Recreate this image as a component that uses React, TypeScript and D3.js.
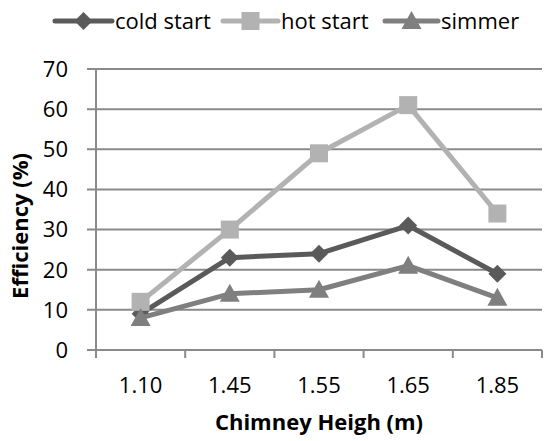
import React from "react";
import * as d3 from "d3";

const categories = ["1.10", "1.45", "1.55", "1.65", "1.85"];
const coldStart = [9, 23, 24, 31, 19];
const hotStart = [12, 30, 49, 61, 34];
const simmer = [8, 14, 15, 21, 13];
const yTicks = [0, 10, 20, 30, 40, 50, 60, 70];

const seriesList = [
  { name: "cold start", values: coldStart, color: "#5a5a5a", marker: "diamond" },
  { name: "hot start", values: hotStart, color: "#b2b2b2", marker: "square" },
  { name: "simmer", values: simmer, color: "#7f7f7f", marker: "triangle" },
];

const W = 544, H = 441;
const left = 96, right = 542, top = 69, bottom = 350;
const FONT = "'Open Sans', sans-serif";
const GRID = "#8a8a8a";

function Marker({ type, x, y, color }: { type: string; x: number; y: number; color: string }) {
  if (type === "square") return <rect x={x - 9} y={y - 9} width={18} height={18} fill={color} />;
  if (type === "diamond")
    return <path d={`M${x},${y - 9}L${x + 9},${y}L${x},${y + 9}L${x - 9},${y}Z`} fill={color} />;
  return <path d={`M${x},${y - 10}L${x + 10},${y + 8}L${x - 10},${y + 8}Z`} fill={color} />;
}

export default function App() {
  const x = d3.scaleBand<string>().domain(categories).range([left, right]);
  const y = d3.scaleLinear().domain([0, 70]).range([bottom, top]);
  const cx = (c: string) => (x(c) as number) + x.bandwidth() / 2;
  const line = d3
    .line<number>()
    .x((_, i) => cx(categories[i]))
    .y((v) => y(v));

  const legendItems = [
    { lx: 55, tx: 115 },
    { lx: 223, tx: 281 },
    { lx: 385, tx: 441 },
  ];

  const boundaries = [...categories.map((c) => x(c) as number), right];

  return (
    <svg width={W} height={H} style={{ position: "absolute", left: 0, top: 0, background: "#fff" }}>
      {yTicks.map((t) => (
        <line key={t} x1={left - 9} x2={right} y1={y(t)} y2={y(t)} stroke={GRID} strokeWidth={2} />
      ))}
      <line x1={left} x2={left} y1={top} y2={bottom + 8} stroke={GRID} strokeWidth={2} />
      {boundaries.map((b, i) => (
        <line key={i} x1={b} x2={b} y1={bottom} y2={bottom + 8} stroke={GRID} strokeWidth={2} />
      ))}
      {yTicks.map((t) => (
        <text key={t} x={68} y={y(t)} dy="0.36em" textAnchor="end" fontFamily={FONT} fontSize={22} fill="#000">
          {t}
        </text>
      ))}
      {categories.map((c) => (
        <text key={c} x={cx(c)} y={393} textAnchor="middle" fontFamily={FONT} fontSize={22} fill="#000">
          {c}
        </text>
      ))}
      <text x={(left + right) / 2} y={430} textAnchor="middle" fontFamily={FONT} fontSize={22} fontWeight="bold">
        Chimney Heigh (m)
      </text>
      <text
        transform={`translate(28,226) rotate(-90)`}
        textAnchor="middle"
        fontFamily={FONT}
        fontSize={22}
        fontWeight="bold"
      >
        Efficiency (%)
      </text>
      {seriesList.map((s) => (
        <g key={s.name}>
          <path d={line(s.values) || ""} fill="none" stroke={s.color} strokeWidth={5} strokeLinejoin="round" />
          {s.values.map((v, i) => (
            <Marker key={i} type={s.marker} x={cx(categories[i])} y={y(v)} color={s.color} />
          ))}
        </g>
      ))}
      {seriesList.map((s, i) => (
        <g key={s.name}>
          <line
            x1={legendItems[i].lx}
            x2={legendItems[i].tx - 3}
            y1={21}
            y2={21}
            stroke={s.color}
            strokeWidth={5}
            strokeLinecap="round"
          />
          <Marker type={s.marker} x={(legendItems[i].lx + legendItems[i].tx - 3) / 2} y={21} color={s.color} />
          <text x={legendItems[i].tx} y={21} dy="0.36em" fontFamily={FONT} fontSize={22} fill="#000">
            {s.name}
          </text>
        </g>
      ))}
    </svg>
  );
}
